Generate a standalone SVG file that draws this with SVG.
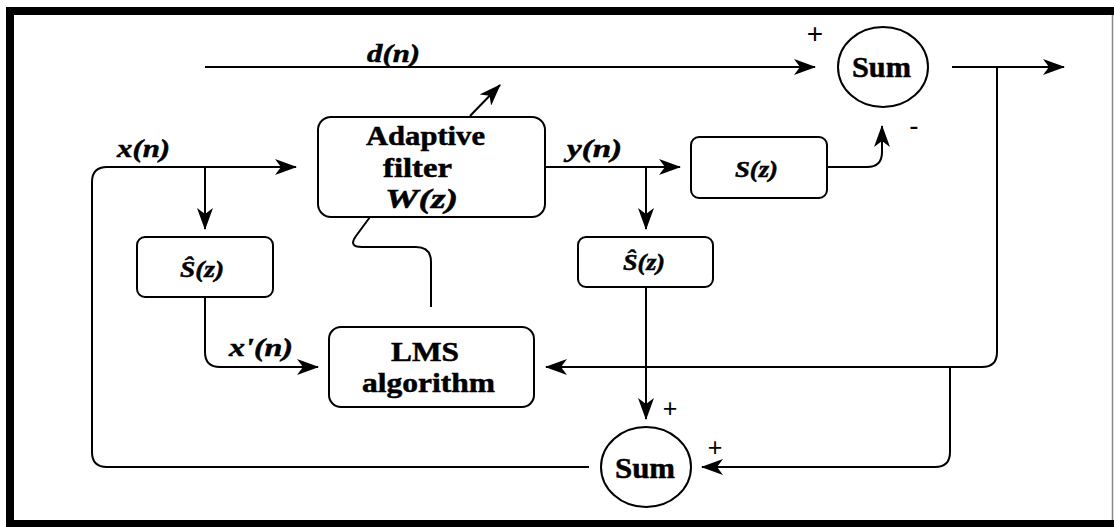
<svg xmlns="http://www.w3.org/2000/svg" width="1114" height="527" viewBox="0 0 1114 527">
<defs>
<marker id="ah" viewBox="0 0 22 16" refX="21" refY="8" markerWidth="22" markerHeight="16" markerUnits="userSpaceOnUse" orient="auto">
<path d="M0,0 L22,8 L0,16 L6,8 Z" fill="#000"/>
</marker>
<style>
.c{fill:none;stroke:#000;stroke-width:2;stroke-linejoin:round}
.a{marker-end:url(#ah)}
.box{fill:#fff;stroke:#000;stroke-width:2}
text.t{font-family:'Liberation Serif',serif;font-weight:700;fill:#000;stroke:#000;stroke-width:0.5}
text.i{font-style:italic}
text.s{font-family:'Liberation Sans',sans-serif;fill:#000;text-anchor:middle}
.f30{font-size:30px}
.f28{font-size:28px}
.f25{font-size:25px}
.f23{font-size:23px}
</style>
</defs>
<rect x="0" y="0" width="1114" height="527" fill="#fff"/>
<g id="frame">
<rect x="6" y="7" width="1108" height="8" fill="#000"/>
<rect x="6" y="7" width="8" height="520" fill="#000"/>
<rect x="6" y="520" width="1108" height="7" fill="#000"/>
<line x1="1112.5" y1="15" x2="1112.5" y2="520" stroke="#888" stroke-width="1.5"/>
</g>
<g id="connectors">
<path class="c a" d="M205,67 L815,67"/>
<path class="c a" d="M952,67 L1064,67"/>
<path class="c a" d="M997,67 L997,352 Q997,367 982,367 L546,367"/>
<path class="c a" d="M950,367 L950,452 Q950,467 935,467 L702,467"/>
<path class="c a" d="M589,467 L107,467 Q92,467 92,452 L92,182 Q92,167 107,167 L296,167"/>
<path class="c a" d="M205,167 L205,229"/>
<path class="c a" d="M205,297 L205,352 Q205,367 220,367 L318,367"/>
<path class="c a" d="M545,167 L680,167"/>
<path class="c a" d="M646,167 L646,229"/>
<path class="c a" d="M827,167 L867,167 Q882,167 882,152 L882,126"/>
<path class="c a" d="M646,287 L646,419"/>
<path class="c a" d="M470,116 L500,85"/>
<path class="c" d="M431,307 L431,262 Q431,247 416,247 L362,247 Q348,247 356,236 L370,217"/>
</g>
<g id="sum-top">
<ellipse cx="883" cy="67" rx="45" ry="40" class="box"/>
<text class="t f30" x="852" y="77" textLength="59" lengthAdjust="spacingAndGlyphs">Sum</text>
</g>
<g id="sum-bottom">
<ellipse cx="646" cy="467" rx="45" ry="40" class="box"/>
<text class="t f30" x="615" y="478" textLength="60" lengthAdjust="spacingAndGlyphs">Sum</text>
</g>
<g id="adaptive-filter">
<rect x="318" y="117" width="227" height="100" rx="13" class="box"/>
<text class="t f28" x="366" y="145" textLength="119" lengthAdjust="spacingAndGlyphs">Adaptive</text>
<text class="t f28" x="383" y="177" textLength="69" lengthAdjust="spacingAndGlyphs">filter</text>
<text class="t i f28" x="385" y="208" textLength="73" lengthAdjust="spacingAndGlyphs">W(z)</text>
</g>
<g id="lms">
<rect x="329" y="327" width="205" height="80" rx="12" class="box"/>
<text class="t f28" x="391" y="361" textLength="68" lengthAdjust="spacingAndGlyphs">LMS</text>
<text class="t f28" x="362" y="392" textLength="133" lengthAdjust="spacingAndGlyphs">algorithm</text>
</g>
<g id="shat1">
<rect x="137" y="237" width="136" height="60" rx="8" class="box"/>
<text class="t i f23" x="180" y="277" textLength="44" lengthAdjust="spacingAndGlyphs">Ŝ(z)</text>
</g>
<g id="shat2">
<rect x="578" y="237" width="135" height="50" rx="8" class="box"/>
<text class="t i f23" x="623" y="270" textLength="42" lengthAdjust="spacingAndGlyphs">Ŝ(z)</text>
</g>
<g id="sz">
<rect x="691" y="137" width="136" height="61" rx="8" class="box"/>
<text class="t i f23" x="735" y="177" textLength="43" lengthAdjust="spacingAndGlyphs">S(z)</text>
</g>
<g id="labels">
<text class="t i f25" x="367" y="62" textLength="53" lengthAdjust="spacingAndGlyphs">d(n)</text>
<text class="t i f25" x="117" y="157" textLength="53" lengthAdjust="spacingAndGlyphs">x(n)</text>
<text class="t i f25" x="567" y="157" textLength="55" lengthAdjust="spacingAndGlyphs">y(n)</text>
<text class="t i f25" x="229" y="356" textLength="64" lengthAdjust="spacingAndGlyphs">x'(n)</text>
<text class="s f28" x="815" y="43">+</text>
<text class="s f28" x="914" y="135">-</text>
<text class="s f25" x="670" y="417">+</text>
<text class="s f25" x="715" y="456">+</text>
</g>
</svg>
